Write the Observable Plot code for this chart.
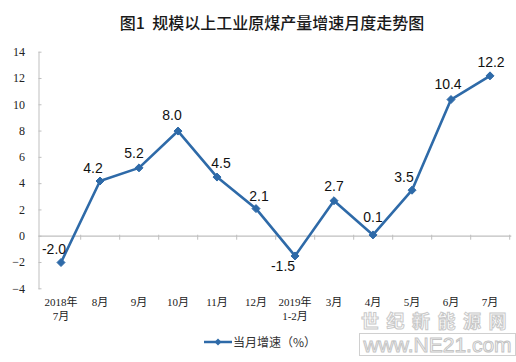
<!DOCTYPE html>
<html><head><meta charset="utf-8">
<script src="https://cdn.jsdelivr.net/npm/d3@7"></script>
<script src="https://cdn.jsdelivr.net/npm/@observablehq/plot@0.6"></script>
<style>
body{margin:0;background:#fff;}
#wrap{position:relative;width:516px;height:362px;overflow:hidden;font-family:"Noto Sans CJK SC",sans-serif;}
#title{position:absolute;top:11px;left:0;width:544px;text-align:center;font-size:16px;font-weight:500;color:#1a1a1a;white-space:pre;line-height:22px;}
#chart{position:absolute;top:40px;left:0;}
#legend{position:absolute;top:333px;left:203px;font-size:12px;color:#333;display:flex;align-items:center;line-height:18px;}
#wm1{position:absolute;left:361px;top:311px;font-size:18px;letter-spacing:7.5px;color:#fff;-webkit-text-stroke:1px #c9c9c9;line-height:18px;font-weight:700;}
#wm2{position:absolute;left:359px;top:333px;width:155px;height:21px;border:1px solid #d0d0d0;font-family:"Liberation Sans",sans-serif;font-size:21px;line-height:21px;color:#fff;-webkit-text-stroke:1px #c4c4c4;text-align:center;overflow:hidden;}
</style></head>
<body><div id="wrap">
<div id="title">图1  规模以上工业原煤产量增速月度走势图</div>
<div id="chart"></div>
<div id="legend"><svg width="30" height="10"><line x1="1" y1="5" x2="29" y2="5" stroke="#2e6aa8" stroke-width="2.5"/><path d="M15,1.5L18.5,5L15,8.5L11.5,5Z" fill="#2e6aa8"/></svg><span>当月增速（%）</span></div>
<div id="wm1">世纪新能源网</div>
<div id="wm2">www.NE21.com</div>
</div>
<script>
const categories = ["2018年\n7月","8月","9月","10月","11月","12月","2019年\n1-2月","3月","4月","5月","6月","7月"];
const values = [-2.0, 4.2, 5.2, 8.0, 4.5, 2.1, -1.5, 2.7, 0.1, 3.5, 10.4, 12.2];
const yTicks = [-4, -2, 0, 2, 4, 6, 8, 10, 12, 14];
const labelDx = [-7, -7, -5, -6, 4, 3, -12, 0, 0, -8, -3, 1];
const labelDy = [-13, -12, -14, -16, -14, -12, 11, -14, -17, -13, -15, -13];

const data = categories.map((c, i) => ({cat: c, v: values[i]}));
const blue = "#2e6aa8";
const grid = "#bfbfbf";
const W = 516, H = 285, mL = 38.5, mR = 4.7;
const bw = (W - mL - mR) / categories.length;
const serif = "'Liberation Serif', 'Noto Sans CJK SC', serif";

const chart = Plot.plot({
  width: W, height: H,
  marginLeft: mL, marginRight: mR, marginTop: 11.7, marginBottom: 36.7,
  style: {fontFamily: serif, fontSize: "12px", color: "#222", background: "transparent"},
  x: {type: "band", domain: categories, padding: 0, label: null},
  y: {domain: [-4, 14], label: null},
  marks: [
    Plot.frame({anchor: "left", stroke: grid}),
    Plot.ruleY([0], {stroke: grid, strokeWidth: 1.2}),
    Plot.ruleX(categories, {x: d => d, y1: 0, y2: 0, insetTop: -1, insetBottom: -4, dx: bw / 2, stroke: grid}),
    Plot.axisY(yTicks, {tickSize: 3, dx: 3, stroke: grid, tickFormat: () => "", label: null}),
    Plot.axisY(yTicks, {tickSize: 0, tickPadding: 14, fontSize: 12, fontFamily: serif, label: null}),
    Plot.axisX({tickSize: 0, tickPadding: 7, fontSize: 11, lineHeight: 1.27, fontFamily: serif, label: null}),
    Plot.line(data, {x: "cat", y: "v", stroke: blue, strokeWidth: 2.6}),
    Plot.dot(data, {x: "cat", y: "v", symbol: "diamond2", r: 3.6, fill: blue, stroke: blue, strokeWidth: 1}),
    ...data.map((d, i) => Plot.text([d], {
      x: "cat", y: "v", text: d => d.v.toFixed(1),
      dx: labelDx[i], dy: labelDy[i],
      fontSize: 14, fontFamily: "'Liberation Sans', Arial, sans-serif", fill: "#111"
    }))
  ]
});
document.getElementById("chart").appendChild(chart);
</script>
</body></html>
